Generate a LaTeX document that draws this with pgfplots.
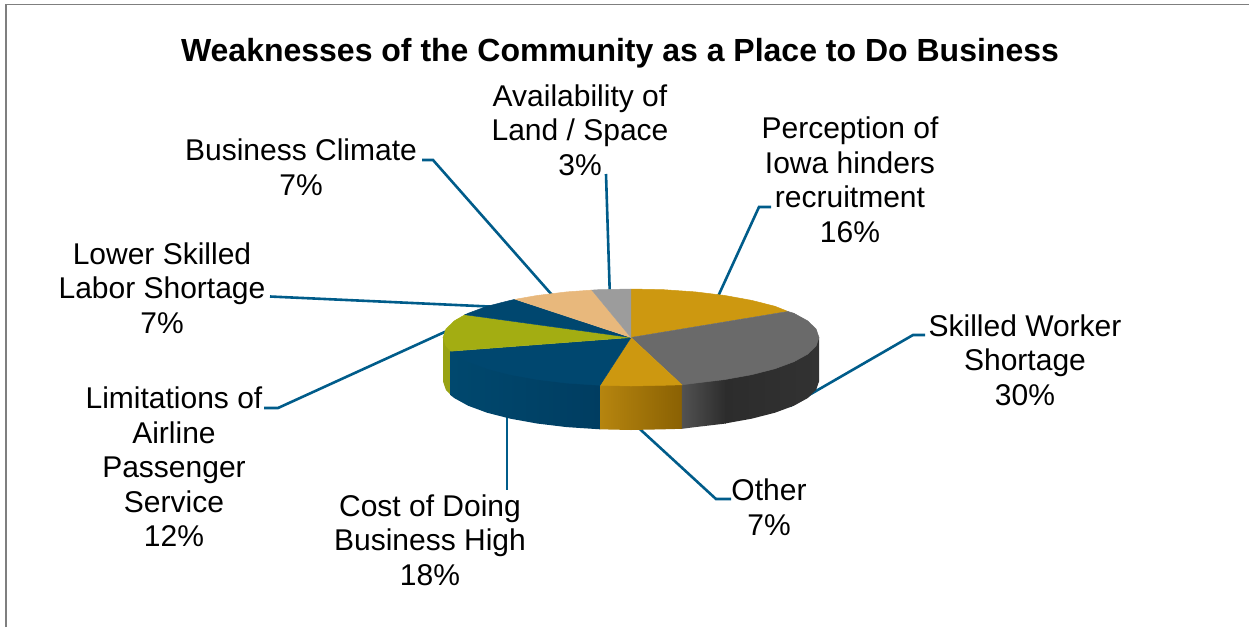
\documentclass[border=0pt]{standalone}
\usepackage{pgfplots}
\pgfplotsset{compat=1.18}
\usepackage{fontspec}
\setmainfont{Liberation Sans}
\definecolor{leader}{HTML}{005C8A}
\definecolor{gold}{HTML}{CD9810}
\definecolor{midgray}{HTML}{6A6A6A}
\definecolor{navy}{HTML}{00476F}
\definecolor{olive}{HTML}{A3AD12}
\definecolor{peach}{HTML}{E8B87C}
\definecolor{ltgray}{HTML}{9C9C9C}
\definecolor{oliveside}{HTML}{98A214}
\definecolor{navyA}{HTML}{00486E}
\definecolor{navyB}{HTML}{003D61}
\definecolor{goldA}{HTML}{B6850F}
\definecolor{goldB}{HTML}{8A6103}
\definecolor{grayA}{HTML}{525252}
\definecolor{grayB}{HTML}{2C2C2C}
\definecolor{grayC}{HTML}{323232}
\definecolor{frame}{HTML}{7F7F7F}
\newcommand{\lbl}{\fontsize{30bp}{34.5bp}\selectfont}
\begin{document}
\begin{tikzpicture}
\begin{axis}[
  hide axis, scale only axis, width=1249bp, height=627bp,
  xmin=0, xmax=1249, ymin=0, ymax=627, y dir=reverse, clip=true,
  every axis plot/.append style={no markers},
]
% page extent
\addplot[draw=none, forget plot] coordinates {(0,0) (1249,627)};
% frame
\addplot[draw=frame, line width=1.5bp] coordinates {(6,627) (6,4.5) (1249,4.5)};
% leader lines
\addplot[draw=leader, line width=2.6bp] coordinates {(715,303) (759,207) (771,207)};
\addplot[draw=leader, line width=2.6bp] coordinates {(790,406) (913,335) (925,335)};
\addplot[draw=leader, line width=2.6bp] coordinates {(630,420) (716,499) (731,499)};
\addplot[draw=leader, line width=2.6bp] coordinates {(507,410) (507,490)};
\addplot[draw=leader, line width=2.6bp] coordinates {(460,325) (278,408) (264,408)};
\addplot[draw=leader, line width=2.6bp] coordinates {(500,307) (270,296.5)};
\addplot[draw=leader, line width=2.6bp] coordinates {(560,304) (433,160) (422,160)};
\addplot[draw=leader, line width=2.6bp] coordinates {(610,300) (606,174)};
% side walls
\addplot[draw=none, fill=oliveside] coordinates {(452,346.2) (445.9,340.9) (443,337.5) (443,381.5) (445.9,389.9) (452,396.2)};
\addplot[draw=none, left color=navyA, right color=navyB] coordinates {(600,380.3) (566.7,378.1) (537,374.5) (510.2,369.65) (487,363.7) (468.2,356.75) (454.3,349.1) (450.6,346.2) (450.6,395.2) (454.3,398.1) (468.2,405.75) (487,412.7) (510.2,418.65) (537,423.5) (566.7,427.1) (600,429.3)};
\addplot[draw=none, left color=goldA, right color=goldB] coordinates {(600,380.3) (631,381) (663.6,380.3) (681.9,379.8) (681.9,428.8) (663.6,429.3) (631,430) (600,429.3)};
\addplot[draw=none, left color=grayA, right color=grayB] coordinates {(681.9,379.8) (695.3,378.1) (726,374.5) (726,423.5) (695.3,427.1) (681.9,428.8)};
\addplot[draw=none, left color=grayB, right color=grayC] coordinates {(725,374.5) (751.8,369.65) (775,363.7) (793.8,356.75) (807.7,349.1) (816.1,340.9) (819,337.5) (819,381.5) (816.1,389.9) (807.7,398.1) (793.8,405.75) (775,412.7) (751.8,418.65) (725,423.5)};
% top face
\addplot[draw=gold, line width=0.5bp, fill=gold] coordinates {(631,337.5) (631,289) (663.6,289.7) (695.3,291.9) (725,295.5) (751.8,300.4) (775,306.3) (788,311.5)};
\addplot[draw=midgray, line width=0.5bp, fill=midgray] coordinates {(631,337.5) (788,311.5) (793.8,313.25) (807.7,320.9) (816.1,329.1) (819,337.5) (816.1,345.9) (807.7,354.1) (793.8,361.75) (775,368.7) (751.8,374.65) (725,379.5) (695.3,383.1) (681.9,384.8)};
\addplot[draw=gold, line width=0.5bp, fill=gold] coordinates {(631,337.5) (681.9,384.8) (663.6,385.3) (631,386) (600,385.3)};
\addplot[draw=navy, line width=0.5bp, fill=navy] coordinates {(631,337.5) (600,385.3) (566.7,383.1) (537,379.5) (510.2,374.65) (487,368.7) (468.2,361.75) (454.3,354.1) (450.6,351.2)};
\addplot[draw=olive, line width=0.5bp, fill=olive] coordinates {(631,337.5) (450.6,351.2) (445.9,345.9) (443,337.5) (445.9,329.1) (454.3,320.9) (465,314.7)};
\addplot[draw=navy, line width=0.5bp, fill=navy] coordinates {(631,337.5) (465,314.7) (468.2,313.25) (487,306.3) (510.2,300.4) (515.3,299.3)};
\addplot[draw=peach, line width=0.5bp, fill=peach] coordinates {(631,337.5) (515.3,299.3) (537,295.5) (566.7,291.9) (591.9,290.1)};
\addplot[draw=ltgray, line width=0.5bp, fill=ltgray] coordinates {(631,337.5) (591.9,290.1) (598.4,289.7) (631,289)};
% text
\node[font=\bfseries\fontsize{32bp}{34.5bp}\selectfont] at (axis cs:620,53) {Weaknesses of the Community as a Place to Do Business};
\node[align=center, font=\lbl] at (axis cs:850,180) {Perception of\\Iowa hinders\\recruitment\\16\%};
\node[align=center, font=\lbl] at (axis cs:1025,360) {Skilled Worker\\Shortage\\30\%};
\node[align=center, font=\lbl] at (axis cs:769,507) {Other\\7\%};
\node[align=center, font=\lbl] at (axis cs:430,540) {Cost of Doing\\Business High\\18\%};
\node[align=center, font=\lbl] at (axis cs:174,467) {Limitations of\\Airline\\Passenger\\Service\\12\%};
\node[align=center, font=\lbl] at (axis cs:162,288) {Lower Skilled\\Labor Shortage\\7\%};
\node[align=center, font=\lbl] at (axis cs:301,167) {Business Climate\\7\%};
\node[align=center, font=\lbl] at (axis cs:580,130) {Availability of\\Land / Space\\3\%};
\end{axis}
\end{tikzpicture}
\end{document}
